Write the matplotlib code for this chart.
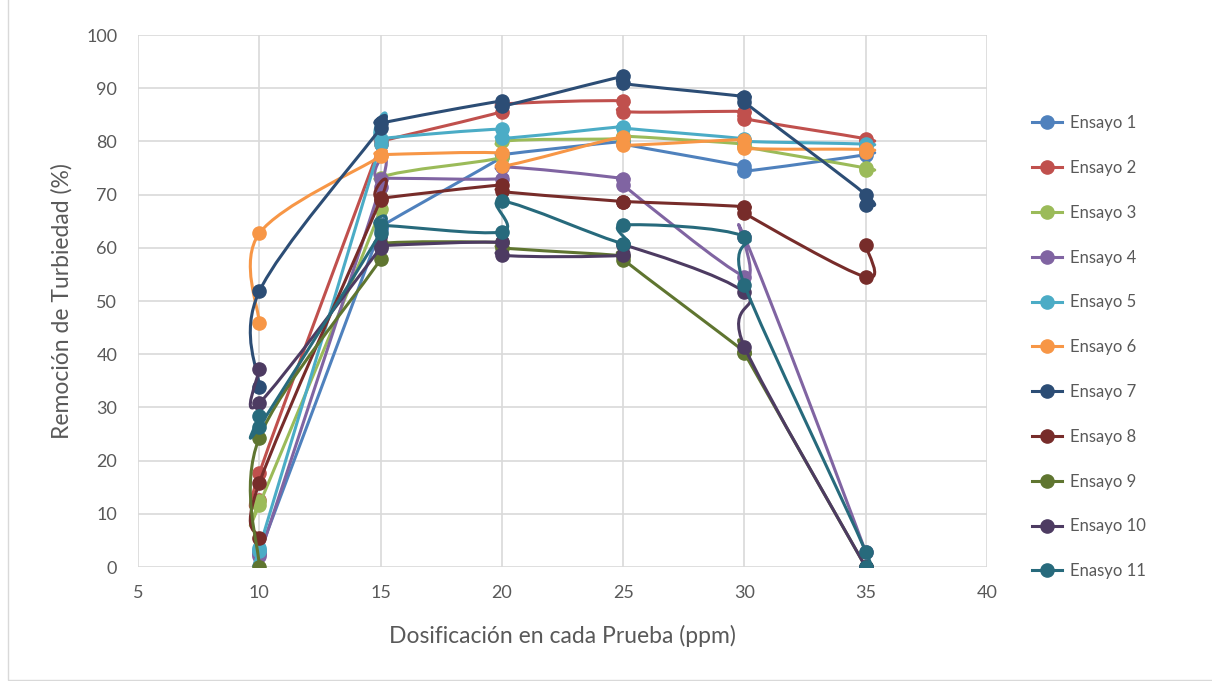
import numpy as np
import matplotlib
matplotlib.use('Agg')
import matplotlib.pyplot as plt
from matplotlib.path import Path
from matplotlib.patches import PathPatch, Rectangle
from matplotlib.lines import Line2D

plt.rcParams['font.family'] = ['Lato', 'DejaVu Sans']

# dosis (ppm), dos replicas por cada dosis
dosis = [10, 10, 15, 15, 20, 20, 25, 25, 30, 30, 35, 35]

ensayo_1 = [3.2, 2.6, 63.5, 64.0, 77.0, 77.5, 80.0, 79.5, 75.3, 74.4, 77.5, 78.0]
ensayo_2 = [12.6, 17.6, 79.5, 80.0, 85.6, 87.0, 87.6, 85.6, 85.6, 84.3, 80.5, 80.0]
ensayo_3 = [12.4, 11.7, 67.2, 73.2, 77.0, 80.0, 80.5, 81.0, 79.5, 79.0, 75.0, 74.7]
ensayo_4 = [2.5, 2.0, 71.5, 73.0, 73.0, 75.2, 73.0, 71.8, 54.6, 62.0, 2.8, 0.0]
ensayo_5 = [3.0, 3.5, 79.5, 80.5, 82.3, 80.6, 82.8, 82.5, 80.5, 80.0, 79.5, 79.2]
ensayo_6 = [45.8, 62.7, 77.2, 77.5, 77.8, 75.3, 80.9, 79.3, 80.3, 78.7, 78.5, 78.0]
ensayo_7 = [33.9, 51.8, 82.5, 83.4, 87.6, 86.6, 92.2, 90.9, 88.4, 87.4, 70.0, 68.0]
ensayo_8 = [5.5, 15.8, 69.0, 69.3, 71.8, 70.6, 68.7, 68.7, 67.7, 66.5, 54.5, 60.5]
ensayo_9 = [0.0, 24.3, 57.9, 60.8, 61.0, 60.0, 58.5, 57.8, 40.5, 40.2, 0.0, 0.0]
ensayo_10 = [37.2, 30.8, 60.0, 60.4, 61.0, 58.6, 58.6, 60.6, 51.6, 41.4, 0.0, 0.0]
ensayo_11 = [28.3, 26.4, 62.8, 64.2, 63.0, 68.8, 60.8, 64.3, 62.1, 53.0, 2.9, 0.0]

nombres = ['Ensayo 1', 'Ensayo 2', 'Ensayo 3', 'Ensayo 4', 'Ensayo 5', 'Ensayo 6',
           'Ensayo 7', 'Ensayo 8', 'Ensayo 9', 'Ensayo 10', 'Enasyo 11']
series = [ensayo_1, ensayo_2, ensayo_3, ensayo_4, ensayo_5, ensayo_6,
          ensayo_7, ensayo_8, ensayo_9, ensayo_10, ensayo_11]
colores = ['#4F81BD', '#C0504D', '#9BBB59', '#8064A2', '#4BACC6', '#F79646',
           '#2C4D75', '#772C2A', '#5F7530', '#4D3B62', '#276A7C']


def smooth_path(x, y):
    # curva suavizada tipo Excel (Catmull-Rom -> Bezier cubica)
    pts = np.column_stack([x, y]).astype(float)
    n = len(pts)
    verts = [pts[0]]
    codes = [Path.MOVETO]
    for i in range(n - 1):
        p0 = pts[i - 1] if i > 0 else pts[i]
        p1 = pts[i]
        p2 = pts[i + 1]
        p3 = pts[i + 2] if i + 2 < n else pts[i + 1]
        c1 = p1 + (p2 - p0) / 6
        c2 = p2 - (p3 - p1) / 6
        verts += [c1, c2, p2]
        codes += [Path.CURVE4] * 3
    return Path(verts, codes)


fig = plt.figure(figsize=(12.12, 6.81), dpi=100)
ax = fig.add_axes([138 / 1212, 1 - 567 / 681, (987 - 138) / 1212, (567 - 35) / 681])

lw = 2.2
ms = 9.5
handles = []
for k, (vals, nombre, c) in enumerate(zip(series, nombres, colores)):
    path = smooth_path(dosis, vals)
    ax.add_patch(PathPatch(path, facecolor='none', edgecolor=c, lw=lw,
                           capstyle='round', joinstyle='round', zorder=3 + k))
    ax.plot(dosis, vals, 'o', ms=ms, color=c, ls='none', zorder=3 + k)
    handles.append(Line2D([0], [0], color=c, lw=lw, marker='o', ms=ms))

ax.set_xlim(5, 40)
ax.set_ylim(0, 100)
ax.set_xticks(range(5, 41, 5))
ax.set_yticks(range(0, 101, 10))
ax.grid(True, color='#D9D9D9', lw=1.2)
ax.set_axisbelow(True)
for s in ax.spines.values():
    s.set_visible(False)
ax.tick_params(length=0, labelsize=13, labelcolor='#595959')
ax.tick_params(axis='x', pad=13)
ax.tick_params(axis='y', pad=15)

ax.set_xlabel('Dosificación en cada Prueba (ppm)', fontsize=16.5, color='#595959', labelpad=17)
ax.set_ylabel('Remoción de Turbiedad (%)', fontsize=16.5, color='#595959', labelpad=10)

fig.legend(handles, nombres, loc='upper left', bbox_to_anchor=(1032 / 1212, 1 - 115 / 681),
           frameon=False, fontsize=12, labelcolor='#595959', handlelength=1.8,
           handletextpad=0.5, labelspacing=1.73, borderaxespad=0, borderpad=0)

# marco del area del grafico
fig.patches.append(Rectangle((8 / 1212, 0.002), 1.1, 1.1, transform=fig.transFigure,
                             fill=False, edgecolor='#D9D9D9', lw=1))

fig.savefig('out.png', dpi=100)
